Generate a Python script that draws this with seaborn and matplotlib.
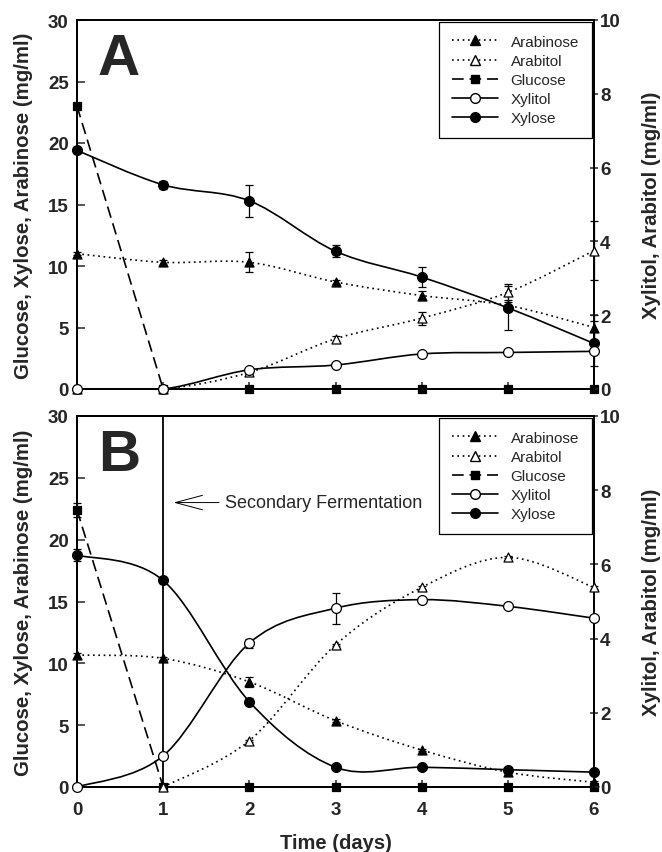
import numpy as np
import matplotlib
matplotlib.use("Agg")
import matplotlib.pyplot as plt
import seaborn as sns
from matplotlib.path import Path
from matplotlib.patches import PathPatch
from matplotlib.lines import Line2D

# ---------------- data ----------------
days = [0, 1, 2, 3, 4, 5, 6]

# Panel A (left axis mg/ml: glucose, xylose, arabinose; right axis: xylitol, arabitol)
a_xylose = [19.4, 16.6, 15.3, 11.2, 9.1, 6.6, 3.7]
a_xylose_err = [0.2, 0.3, 1.3, 0.5, 0.8, 1.8, 1.8]
a_arabinose = [11.0, 10.3, 10.3, 8.7, 7.6, 6.8, 5.0]
a_arabinose_err = [0.1, 0.2, 0.8, 0.2, 0.4, 0.3, 1.0]
a_glucose = [23.0, 0, 0, 0, 0, 0, 0]
a_glucose_err = [0, 0, 0, 0, 0, 0, 0]
a_xylitol = [0, 0, 0.52, 0.65, 0.95, 0.99, 1.02]
a_xylitol_err = [0, 0, 0.03, 0.03, 0.03, 0.03, 0.03]
a_arabitol = [0, 0, 0.45, 1.36, 1.92, 2.62, 3.75]
a_arabitol_err = [0, 0, 0.03, 0.08, 0.18, 0.22, 0.8]

# Panel B (arabitol at day 0 not shown in the figure)
b_xylose = [18.75, 16.7, 6.9, 1.6, 1.6, 1.4, 1.2]
b_xylose_err = [0.5, 0.2, 0.3, 0.1, 0.1, 0.1, 0.1]
b_arabinose = [10.67, 10.4, 8.5, 5.36, 2.99, 1.2, 0.38]
b_arabinose_err = [0.2, 0.1, 0.4, 0.1, 0.1, 0.1, 0.1]
b_glucose = [22.4, 0, 0, 0, 0, 0, 0]
b_glucose_err = [0.6, 0, 0, 0, 0, 0, 0]
b_xylitol = [0, 0.84, 3.88, 4.82, 5.05, 4.87, 4.55]
b_xylitol_err = [0, 0.03, 0.12, 0.42, 0.03, 0.03, 0.03]
b_arabitol = [np.nan, 0, 1.25, 3.83, 5.38, 6.19, 5.38]
b_arabitol_err = [0, 0, 0.03, 0.03, 0.03, 0.03, 0.03]

left_ticks = [0, 5, 10, 15, 20, 25, 30]
right_ticks = [0, 2, 4, 6, 8, 10]
series_names = ["Arabinose", "Arabitol", "Glucose", "Xylitol", "Xylose"]
left_label = "Glucose, Xylose, Arabinose (mg/ml)"
right_label = "Xylitol, Arabitol (mg/ml)"
x_label = "Time (days)"
annot_text = "Secondary Fermentation"

# ---------------- style ----------------
sns.set_style("ticks")
plt.rcParams["font.family"] = ["Liberation Sans", "DejaVu Sans"]
plt.rcParams["axes.linewidth"] = 1.3

DOT = (0, (1.0, 2.2))
DASH = (0, (7, 3.5))
LW = 1.2
TICK_FS = 13.5
LABEL_FS = 14.7


def smooth_path(x, y):
    pts = np.column_stack([np.asarray(x, float), np.asarray(y, float)])
    pts = pts[~np.isnan(pts[:, 1])]
    n = len(pts)
    verts = [pts[0]]
    codes = [Path.MOVETO]
    for i in range(n - 1):
        p0 = pts[i - 1] if i > 0 else pts[i]
        p1 = pts[i]
        p2 = pts[i + 1]
        p3 = pts[i + 2] if i + 2 < n else pts[i + 1]
        c1 = p1 + (p2 - p0) / 6.0
        c2 = p2 - (p3 - p1) / 6.0
        verts += [c1, c2, p2]
        codes += [Path.CURVE4] * 3
    return Path(verts, codes)


def draw_series(ax, y, err, marker, filled, ls, smooth=True, s=40):
    if smooth:
        patch = PathPatch(smooth_path(days, y), fill=False, lw=LW, ls=ls,
                          edgecolor="black", transform=ax.transData,
                          clip_on=True, zorder=3)
        ax.add_patch(patch)
    else:
        sns.lineplot(x=days, y=y, ax=ax, color="black", lw=LW,
                     linestyle=ls, clip_on=False, zorder=3, legend=False)
    ax.errorbar(days, y, yerr=err, fmt="none", ecolor="black",
                elinewidth=0.9, capsize=3.2, capthick=0.9,
                clip_on=False, zorder=4)
    sns.scatterplot(x=days, y=y, ax=ax, marker=marker, s=s,
                    color="black" if filled else "white",
                    edgecolor="black", linewidth=0.9,
                    clip_on=False, zorder=5, legend=False)


def style_axes(ax, ax2, show_xlabels):
    ax.set_xlim(0, 6)
    ax.set_ylim(0, 30)
    ax2.set_ylim(0, 10)
    ax.set_xticks(days)
    ax.set_yticks(left_ticks)
    ax2.set_yticks(right_ticks)
    ax.tick_params(axis="y", direction="in", length=6, width=1.1, pad=6,
                   labelsize=TICK_FS)
    ax.tick_params(axis="x", direction="in", length=5, width=1.1, pad=10,
                   labelsize=TICK_FS, labelbottom=show_xlabels)
    ax2.tick_params(axis="y", direction="inout", length=6, width=1.1, pad=1.5,
                    labelsize=TICK_FS)
    for lab in ax.get_yticklabels() + ax.get_xticklabels() + ax2.get_yticklabels():
        lab.set_fontweight("bold")
    for sp in list(ax.spines.values()) + list(ax2.spines.values()):
        sp.set_linewidth(1.3)
        sp.set_color("black")
    ax.set_ylabel(left_label, fontsize=LABEL_FS, fontweight="bold")
    ax.yaxis.set_label_coords(-0.085, 0.5)
    ax2.set_ylabel(right_label, fontsize=LABEL_FS, fontweight="bold")
    ax2.yaxis.set_label_coords(1.092, 0.5)
    ax.set_xlabel("")


def add_legend(ax2):
    handles = [
        Line2D([], [], color="black", ls=DOT, lw=LW, marker="^", mfc="black", mec="black", ms=6.5),
        Line2D([], [], color="black", ls=DOT, lw=LW, marker="^", mfc="white", mec="black", ms=6.5),
        Line2D([], [], color="black", ls=DASH, lw=LW, marker="s", mfc="black", mec="black", ms=5.5),
        Line2D([], [], color="black", ls="-", lw=LW, marker="o", mfc="white", mec="black", ms=7),
        Line2D([], [], color="black", ls="-", lw=LW, marker="o", mfc="black", mec="black", ms=7),
    ]
    leg = ax2.legend(handles, series_names, loc="upper right",
                     bbox_to_anchor=(0.996, 0.995), borderaxespad=0,
                     fontsize=11, handlelength=3.0, handletextpad=0.85,
                     labelspacing=0.33, borderpad=0.85, fancybox=False,
                     framealpha=1, edgecolor="black")
    leg.get_frame().set_linewidth(0.9)
    leg.set_zorder(10)


W, H = 662, 853
fig = plt.figure(figsize=(W / 100, H / 100), dpi=100)

L, R = 77, 594
axA = fig.add_axes([L / W, 1 - 390 / H, (R - L) / W, (390 - 21) / H])
axB = fig.add_axes([L / W, 1 - 788 / H, (R - L) / W, (788 - 417) / H])

for ax, data, show, letter in [
    (axA, (a_arabinose, a_arabinose_err, a_arabitol, a_arabitol_err, a_glucose, a_glucose_err,
           a_xylitol, a_xylitol_err, a_xylose, a_xylose_err), False, "A"),
    (axB, (b_arabinose, b_arabinose_err, b_arabitol, b_arabitol_err, b_glucose, b_glucose_err,
           b_xylitol, b_xylitol_err, b_xylose, b_xylose_err), True, "B"),
]:
    ara, ara_e, arb, arb_e, glc, glc_e, xyt, xyt_e, xyl, xyl_e = data
    ax2 = ax.twinx()
    ax2.set_ylim(0, 10)
    ax.set_ylim(0, 30)
    # left-axis series
    draw_series(ax, glc, glc_e, "s", True, DASH, smooth=False, s=30)
    draw_series(ax, ara, ara_e, "^", True, DOT, s=42)
    draw_series(ax, xyl, xyl_e, "o", True, "-", s=50)
    # right-axis series
    draw_series(ax2, arb, arb_e, "^", False, DOT, s=42)
    draw_series(ax2, xyt, xyt_e, "o", False, "-", s=50)
    style_axes(ax, ax2, show)
    add_legend(ax2)
    ax.text(0.04, 0.968, letter, transform=ax.transAxes, fontsize=42,
            fontweight="bold", ha="left", va="top", zorder=10)

# secondary fermentation marker on panel B
axB.axvline(1, color="black", lw=1.3, zorder=2)
axB.annotate(annot_text, xy=(1.12, 23.0), xytext=(1.72, 23.0),
             fontsize=13, ha="left", va="center",
             arrowprops=dict(arrowstyle="->, head_length=1.5, head_width=0.4",
                             lw=0.7, color="black", shrinkA=2, shrinkB=0))

axB.set_xlabel(x_label, fontsize=14.5, fontweight="bold")
axB.xaxis.set_label_coords(0.5, -0.125)

fig.savefig("out.png", dpi=100)
